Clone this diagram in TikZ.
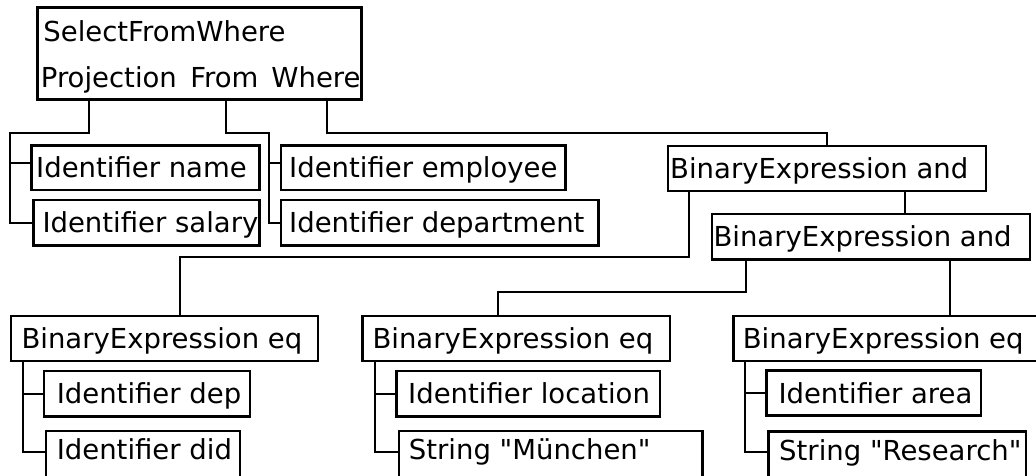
\documentclass[tikz,border=0pt]{standalone}
\usepackage{fontspec}
\setmainfont{DejaVu Sans}[Ligatures=TeXOff]
\usetikzlibrary{calc}
\newcommand\boxtxt[3]{\makebox[#1pt][l]{\hspace*{#2pt}#3}}
\begin{document}
\begin{tikzpicture}[x=1pt,y=-1pt,
  box/.style={draw, line width=2.9pt, anchor=north west, outer sep=0pt,
    inner xsep=0pt, inner ysep=0pt, text height=20pt, text depth=0pt,
    font=\fontsize{27.5}{32}\selectfont},
  cut/.style={minimum height=50pt, text depth=12.4pt},
  lbl/.style={anchor=base west, inner sep=0pt, font=\fontsize{27.5}{32}\selectfont},
  conn/.style={line width=2pt}]
\useasboundingbox (0,0) rectangle (1036,476);
\fill[white] (0,0) rectangle (1036,476);

% root
\node[box, minimum height=92pt] (root) at (37.7,7.3) {\boxtxt{324}{0}{}};
\node[lbl] (rt1) at (43.2,41.7) {SelectFromWhere};
\node[lbl] (rtp) at (40.7,87.3) {Projection};
\node[lbl] (rtf) at (190.1,87.3) {From};
\node[lbl] (rtw) at (271.2,87.3) {Where};

% projection / from children
\node[box, minimum height=44.3pt] (name) at (31.7,145.7) {\boxtxt{227.6}{4.5}{Identifier name}};
\node[box, minimum height=45.3pt] (salary) at (33.3,200) {\boxtxt{226}{9.2}{Identifier salary}};
\node[box, minimum height=44.3pt] (employee) at (281,145.7) {\boxtxt{284.3}{8.2}{Identifier employee}};
\node[box, minimum height=45.3pt] (department) at (281,200) {\boxtxt{317.7}{8.2}{Identifier department}};

% where subtree
\node[box, minimum height=45pt] (and1) at (668,146) {\boxtxt{318}{2.2}{BinaryExpression and}};
\node[box, minimum height=45.3pt] (and2) at (712,214) {\boxtxt{318}{1.5}{BinaryExpression and}};
\node[box, minimum height=45pt] (eq1) at (11,316) {\boxtxt{307}{10.5}{BinaryExpression eq}};
\node[box, minimum height=45pt] (eq2) at (362.7,316) {\boxtxt{307.3}{9.8}{BinaryExpression eq}};
\node[box, minimum height=45pt] (eq3) at (733.3,316) {\boxtxt{310}{9.5}{BinaryExpression eq}};

\node[box, minimum height=45.7pt] (dep) at (44,371) {\boxtxt{206}{12.8}{Identifier dep}};
\node[box, cut] (did) at (46,431) {\boxtxt{194}{10.8}{Identifier did}};
\node[box, minimum height=45.7pt] (location) at (396.7,371) {\boxtxt{263.3}{11.5}{Identifier location}};
\node[box, cut] (muc) at (399,431) {\boxtxt{303.7}{9.9}{String "München"}};
\node[box, minimum height=45pt] (area) at (766.7,370.7) {\boxtxt{214.3}{11.8}{Identifier area}};
\node[box, cut] (res) at (768.3,431.7) {\boxtxt{257.7}{10.9}{String "Research"}};

% anchor points on root bottom
\coordinate (pP) at ($(root.south west)+(51.3,0)$);
\coordinate (fP) at ($(root.south west)+(188.3,0)$);
\coordinate (wP) at ($(root.south west)+(289,0)$);
\coordinate (jP) at (10,132.7);
\coordinate (jF) at (269.3,132.7);

% connectors
\draw[conn] (pP) |- (jP) |- (salary.west);
\draw[conn] ($(name.west)+(-21.7,-4.6)$) -- ($(name.west)+(0,-4.6)$);
\draw[conn] (fP) |- (jF) |- (department.west);
\draw[conn] ($(employee.west)+(-11.7,-4.6)$) -- ($(employee.west)+(0,-4.6)$);
\draw[conn] (wP) -- ++(0,34) -| (and1.north);

\draw[conn] ($(and1.south west)+(21.3,0)$) -- ++(0,65.7) -| ($(eq1.north west)+(169,0)$);
\draw[conn] ($(and1.south west)+(237,0)$) -- ($(and2.north west)+(193,0)$);
\draw[conn] ($(and2.south west)+(34,0)$) -- ++(0,32.4) -| ($(eq2.north west)+(135,0)$);
\draw[conn] ($(and2.south west)+(238,0)$) -- ($(eq3.north west)+(216.7,0)$);

\coordinate (t1) at ($(eq1.south west)+(12.3,0)$);
\coordinate (t2) at ($(eq2.south west)+(12.3,0)$);
\coordinate (t3) at ($(eq3.south west)+(12,0)$);
\draw[conn] (t1) |- ($(did.north west)+(0,20.7)$);
\draw[conn] (t1 |- dep.west) -- (dep.west);
\draw[conn] (t2) |- ($(muc.north west)+(0,20.7)$);
\draw[conn] (t2 |- location.west) -- (location.west);
\draw[conn] (t3) |- ($(res.north west)+(0,20)$);
\draw[conn] (t3 |- area.west) -- (area.west);
\end{tikzpicture}
\end{document}
